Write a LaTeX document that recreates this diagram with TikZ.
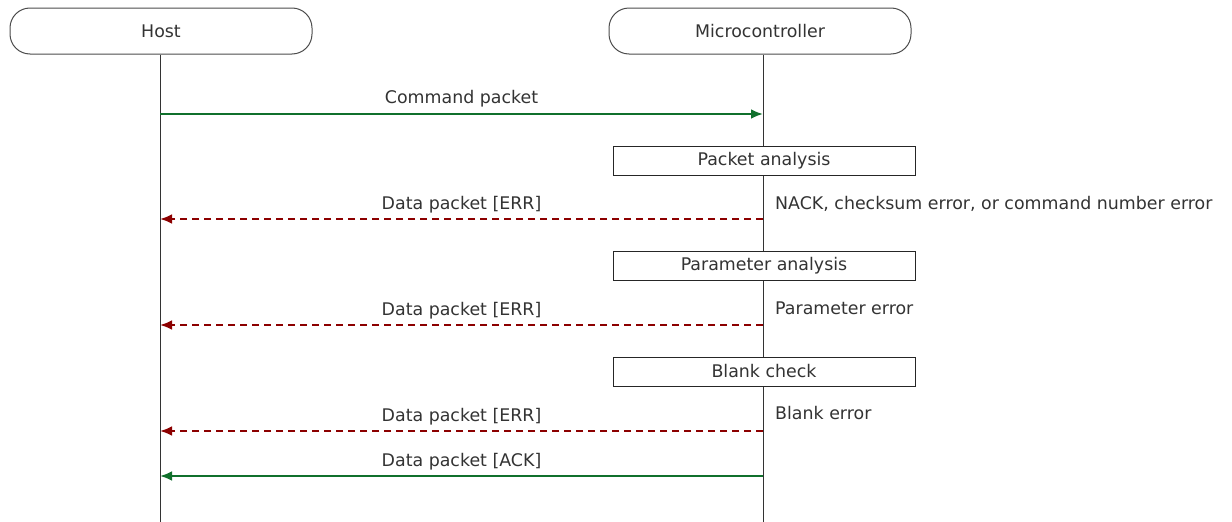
\documentclass[tikz,border=0pt]{standalone}
\usepackage{fontspec}
\setmainfont{DejaVu Sans}
\usetikzlibrary{arrows.meta}
\definecolor{okgreen}{RGB}{16,112,44}
\definecolor{errred}{RGB}{140,0,0}
\begin{document}
\begin{tikzpicture}[x=1pt,y=-1pt]
\tikzstyle{actor}=[draw=black!70,line width=1pt,rounded corners=20pt,minimum width=302pt,minimum height=46pt,inner sep=0pt,font=\fontsize{17.4}{20}\selectfont,text=black!80]
\tikzstyle{proc}=[draw=black!85,line width=1pt,minimum width=302pt,minimum height=29pt,inner sep=0pt,font=\fontsize{17.4}{20}\selectfont,text=black!80]
\tikzstyle{lbl}=[font=\fontsize{17.4}{20}\selectfont,text=black!80,inner sep=0pt]
\tikzstyle{ok}=[okgreen,line width=2.4pt,-{Latex[length=12pt,width=10pt]}]
\tikzstyle{err}=[errred,line width=2.4pt,dash pattern=on 7pt off 5pt,-{Latex[length=12pt,width=10pt]}]
\useasboundingbox (0,0) rectangle (1232,522);

\path (161,31) node[actor](host){Host} (760,31) node[actor](mcu){Microcontroller};
\coordinate (hostend) at (160,522);
\coordinate (mcuend) at (763,522);
\draw[black!80,line width=1pt] (host.south -| hostend) -- (hostend);
\draw[black!80,line width=1pt] (mcu.south -| mcuend) -- (mcuend);

% command
\coordinate (h1) at (160,114); \coordinate (m1) at (763,114);
\draw[ok] (h1) -- node[lbl,above=6pt] {Command packet} (m1);

% packet analysis
\path (764,160.5) node[proc,fill=white](pa){Packet analysis};
\coordinate (h2) at (160,219); \coordinate (m2) at (763,219);
\draw[err] (m2) -- node[lbl,above=5pt] {Data packet [ERR]} (h2);
\node[lbl,anchor=base west] (e1) at (775,209) {NACK, checksum error, or command number error};

% parameter analysis
\path (764,266) node[proc,fill=white](ppa){Parameter analysis};
\coordinate (h3) at (160,325); \coordinate (m3) at (763,325);
\draw[err] (m3) -- node[lbl,above=5pt] {Data packet [ERR]} (h3);
\node[lbl,anchor=base west] (e2) at (775,314) {Parameter error};

% blank check
\path (764,371.5) node[proc,fill=white](bc){Blank check};
\coordinate (h4) at (160,431); \coordinate (m4) at (763,431);
\draw[err] (m4) -- node[lbl,above=5pt] {Data packet [ERR]} (h4);
\node[lbl,anchor=base west] (e3) at (775,419) {Blank error};

% ack
\coordinate (h5) at (160,476); \coordinate (m5) at (763,476);
\draw[ok] (m5) -- node[lbl,above=5pt] {Data packet [ACK]} (h5);
\end{tikzpicture}
\end{document}
